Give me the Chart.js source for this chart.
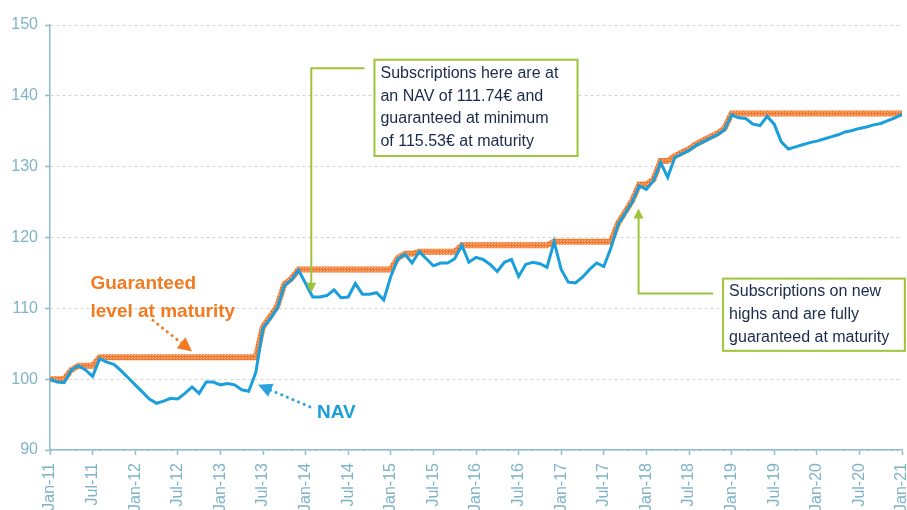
<!DOCTYPE html>
<html>
<head>
<meta charset="utf-8">
<script src="https://cdn.jsdelivr.net/npm/chart.js@4"></script>
<style>
  html, body { margin: 0; padding: 0; background: #fff; overflow: hidden; }
</style>
</head>
<body>
<canvas id="navChart" width="907" height="510"></canvas>
<script>
// x axis runs in months from Jan-11 (0) to Jan-21 (120), one tick every 6 months
const tickLabels = [
  'Jan-11', 'Jul-11', 'Jan-12', 'Jul-12', 'Jan-13', 'Jul-13', 'Jan-14', 'Jul-14',
  'Jan-15', 'Jul-15', 'Jan-16', 'Jul-16', 'Jan-17', 'Jul-17', 'Jan-18', 'Jul-18',
  'Jan-19', 'Jul-19', 'Jan-20', 'Jul-20', 'Jan-21'
];

// monthly NAV
const nav = [
  100.0, 99.6, 99.5, 101.3, 101.9, 101.3, 100.4, 102.9, 102.4, 102.1,
  101.2, 100.2, 99.2, 98.2, 97.2, 96.6, 96.9, 97.3, 97.2, 98.0,
  98.9, 98.0, 99.6, 99.6, 99.2, 99.4, 99.2, 98.5, 98.3, 101.0,
  107.2, 108.5, 110.0, 113.2, 114.0, 115.4, 113.5, 111.6, 111.6, 111.8,
  112.6, 111.5, 111.6, 113.5, 112.0, 112.0, 112.2, 111.2, 114.5, 117.0,
  117.6, 116.4, 118.0, 117.0, 116.0, 116.4, 116.4, 117.0, 118.9, 116.5,
  117.2, 116.9, 116.2, 115.2, 116.5, 116.9, 114.5, 116.2, 116.5, 116.3,
  115.8, 119.4, 115.5, 113.7, 113.6, 114.4, 115.5, 116.4, 115.9, 118.5,
  121.8, 123.4, 125.0, 127.3, 126.8, 128.0, 130.6, 128.5, 131.3, 131.8,
  132.3, 133.0, 133.5, 134.0, 134.5, 135.2, 137.3, 136.9, 136.8, 136.0,
  135.8, 137.1, 136.0, 133.5, 132.5, 132.8, 133.1, 133.4, 133.6, 133.9,
  134.2, 134.5, 134.9, 135.1, 135.4, 135.6, 135.9, 136.1, 136.5, 136.9,
  137.4
];

// monthly guaranteed level at maturity
const guaranteed = [
  100.0, 100.0, 100.0, 101.3, 101.9, 101.9, 101.9, 103.1, 103.1, 103.1,
  103.1, 103.1, 103.1, 103.1, 103.1, 103.1, 103.1, 103.1, 103.1, 103.1,
  103.1, 103.1, 103.1, 103.1, 103.1, 103.1, 103.1, 103.1, 103.1, 103.1,
  107.4, 108.8, 110.3, 113.4, 114.2, 115.5, 115.5, 115.5, 115.5, 115.5,
  115.5, 115.5, 115.5, 115.5, 115.5, 115.5, 115.5, 115.5, 115.5, 117.1,
  117.7, 117.7, 118.0, 118.0, 118.0, 118.0, 118.0, 118.0, 118.9, 118.9,
  118.9, 118.9, 118.9, 118.9, 118.9, 118.9, 118.9, 118.9, 118.9, 118.9,
  118.9, 119.4, 119.4, 119.4, 119.4, 119.4, 119.4, 119.4, 119.4, 119.4,
  122.0, 123.6, 125.2, 127.5, 127.5, 128.2, 130.8, 130.8, 131.5, 132.0,
  132.5, 133.2, 133.7, 134.2, 134.7, 135.4, 137.5, 137.5, 137.5, 137.5,
  137.5, 137.5, 137.5, 137.5, 137.5, 137.5, 137.5, 137.5, 137.5, 137.5,
  137.5, 137.5, 137.5, 137.5, 137.5, 137.5, 137.5, 137.5, 137.5, 137.5,
  137.5
];

const yTicks = [90, 100, 110, 120, 130, 140, 150];

const AXIS = '#8dbccd';
const TICK_TEXT = '#7fb3c6';
const BLUE = '#1a9fdb';
const ORANGE = '#f47a22';
const GREEN = '#9dc43a';
const NAVY = '#1b2a4a';
const FONT = '"Liberation Sans", Arial, sans-serif';

// speckled orange stroke like the original
function orangePattern(ctx) {
  const p = document.createElement('canvas');
  p.width = 3; p.height = 3;
  const pc = p.getContext('2d');
  pc.fillStyle = '#f5803a';
  pc.fillRect(0, 0, 3, 3);
  pc.fillStyle = '#f9b084';
  pc.fillRect(0, 0, 1, 1);
  pc.fillRect(2, 1, 1, 1);
  pc.fillStyle = '#ef6a15';
  pc.fillRect(1, 2, 1, 1);
  return ctx.createPattern(p, 'repeat');
}

function arrowHead(ctx, fromX, fromY, tipX, tipY, len, half, color) {
  const a = Math.atan2(tipY - fromY, tipX - fromX);
  ctx.save();
  ctx.fillStyle = color;
  ctx.translate(tipX, tipY);
  ctx.rotate(a);
  ctx.beginPath();
  ctx.moveTo(0, 0);
  ctx.lineTo(-len, -half);
  ctx.lineTo(-len, half);
  ctx.closePath();
  ctx.fill();
  ctx.restore();
}

function dottedArrow(ctx, x1, y1, x2, y2, color) {
  const a = Math.atan2(y2 - y1, x2 - x1);
  const stopX = x2 - Math.cos(a) * 12;
  const stopY = y2 - Math.sin(a) * 12;
  ctx.save();
  ctx.strokeStyle = color;
  ctx.lineWidth = 3;
  ctx.lineCap = 'round';
  ctx.setLineDash([0.1, 6]);
  ctx.beginPath();
  ctx.moveTo(x1, y1);
  ctx.lineTo(stopX, stopY);
  ctx.stroke();
  ctx.restore();
  arrowHead(ctx, x1, y1, x2, y2, 14, 7, color);
}

function noteBox(ctx, left, top, right, bottom, lines, first, step) {
  ctx.save();
  ctx.fillStyle = '#fff';
  ctx.fillRect(left, top, right - left, bottom - top);
  ctx.strokeStyle = GREEN;
  ctx.lineWidth = 2;
  ctx.strokeRect(left, top, right - left, bottom - top);
  ctx.fillStyle = NAVY;
  ctx.font = '16px ' + FONT;
  ctx.textBaseline = 'alphabetic';
  lines.forEach((t, i) => ctx.fillText(t, left + 6, top + first + i * step));
  ctx.restore();
}

function elbow(ctx, x0, y0, xc, yTip) {
  ctx.save();
  ctx.strokeStyle = GREEN;
  ctx.lineWidth = 2;
  ctx.beginPath();
  ctx.moveTo(x0, y0);
  ctx.lineTo(xc, y0);
  const dir = yTip > y0 ? 1 : -1;
  ctx.lineTo(xc, yTip - dir * 8);
  ctx.stroke();
  ctx.restore();
  arrowHead(ctx, xc, y0, xc, yTip, 10, 5, GREEN);
}

const annotations = {
  id: 'annotations',
  afterDatasetsDraw(chart) {
    const { ctx, scales: { x, y } } = chart;
    const px = (m) => x.getPixelForValue(m);
    const py = (v) => y.getPixelForValue(v);

    // top note
    elbow(ctx, px(44.3), py(143.9), px(36.8), py(112.2));
    noteBox(ctx, px(45.7), py(145.1), px(74.3), py(131.5), [
      'Subscriptions here are at',
      'an NAV of 111.74€ and',
      'guaranteed at minimum',
      'of 115.53€ at maturity'
    ], 18.5, 22.5);

    // right note
    elbow(ctx, px(93.4), py(112.1), px(82.9), py(124.1));
    noteBox(ctx, px(94.8), py(114.2), px(120.4), py(104.0), [
      'Subscriptions on new',
      'highs and are fully',
      'guaranteed at maturity'
    ], 17.5, 23);

    // series labels
    ctx.save();
    ctx.font = 'bold 19px ' + FONT;
    ctx.fillStyle = ORANGE;
    ctx.fillText('Guaranteed', px(5.7), py(112.8));
    ctx.fillText('level at maturity', px(5.7), py(108.8));
    ctx.fillStyle = BLUE;
    ctx.fillText('NAV', px(37.6), py(94.5));
    ctx.restore();

    dottedArrow(ctx, px(14.5), py(108.3), px(20.0), py(103.9), ORANGE);
    dottedArrow(ctx, px(36.6), py(96.1), px(29.3), py(99.2), '#2aa3dc');
  }
};

const canvas = document.getElementById('navChart');
const ctx = canvas.getContext('2d');

new Chart(ctx, {
  type: 'line',
  data: {
    datasets: [
      {
        label: 'NAV',
        data: nav.map((v, i) => ({ x: i, y: v })),
        borderColor: BLUE,
        borderWidth: 3,
        pointRadius: 0,
        tension: 0,
        order: 0,
      },
      {
        label: 'Guaranteed level at maturity',
        data: guaranteed.map((v, i) => ({ x: i, y: v })),
        borderColor: orangePattern(ctx),
        borderWidth: 6,
        pointRadius: 0,
        tension: 0,
        order: 1,
      },
    ],
  },
  options: {
    responsive: false,
    animation: false,
    layout: { padding: { top: 25, right: 5, left: 0, bottom: 0 } },
    plugins: { legend: { display: false }, tooltip: { enabled: false } },
    scales: {
      x: {
        type: 'linear',
        min: 0,
        max: 120,
        afterFit: (scale) => {
          scale.height = 60;
          scale.paddingLeft = 0;
          scale.paddingRight = 0;
        },
        border: { color: AXIS, width: 1.5 },
        grid: { drawOnChartArea: false, drawTicks: true, tickLength: 5, tickColor: AXIS, tickWidth: 1.5 },
        ticks: {
          stepSize: 6,
          maxTicksLimit: 30,
          autoSkip: false,
          minRotation: 90,
          maxRotation: 90,
          padding: 8,
          color: TICK_TEXT,
          font: { family: FONT, size: 16 },
          callback: (v) => tickLabels[v / 6] ?? '',
        },
      },
      y: {
        min: yTicks[0],
        max: yTicks[yTicks.length - 1],
        afterFit: (scale) => { scale.width = 50; },
        border: { color: AXIS, width: 1.5, dash: [3, 3] },
        grid: { color: '#d3d3d3', lineWidth: 1, tickLength: 5, tickColor: AXIS, tickWidth: 1.5, tickBorderDash: [] },
        ticks: {
          stepSize: 10,
          padding: 7,
          color: TICK_TEXT,
          font: { family: FONT, size: 16 },
        },
      },
    },
  },
  plugins: [annotations],
});
</script>
</body>
</html>
